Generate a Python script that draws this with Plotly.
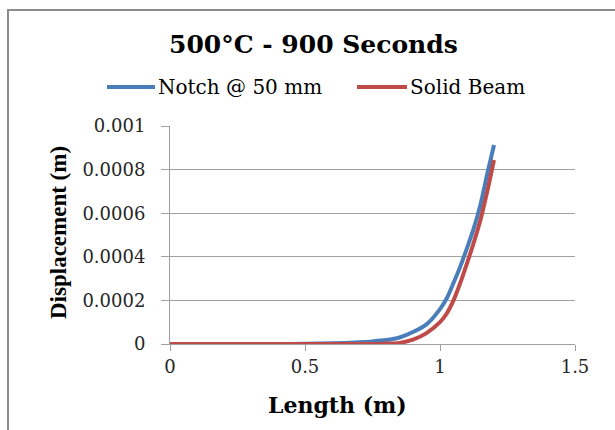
import plotly.graph_objects as go

x_vals = [0, 0.1, 0.2, 0.3, 0.4, 0.5, 0.6, 0.7, 0.75, 0.8, 0.85, 0.9, 0.95, 1.0,
          1.025, 1.05, 1.075, 1.1, 1.125, 1.15, 1.175, 1.2]
notch = [0, 0, 0, 0, 0, 0.000001, 0.000003, 0.000008, 0.000012, 0.000018, 0.000030, 0.000055, 0.000090, 0.000160,
         0.000210, 0.000280, 0.000355, 0.000440, 0.000530, 0.000640, 0.000780, 0.000913]
solid = [0, 0, 0, 0, 0, 0, 0, 0, 0, 0.000002, 0.000005, 0.000020, 0.000050, 0.000100,
         0.000140, 0.000200, 0.000280, 0.000370, 0.000465, 0.000570, 0.000700, 0.000844]

series_names = ["Notch @ 50 mm", "Solid Beam"]
series_colors = ["#4A7EBB", "#BE4B48"]

y_ticks = [0, 0.0002, 0.0004, 0.0006, 0.0008, 0.001]
y_ticktext = ["0", "0.0002", "0.0004", "0.0006", "0.0008", "0.001"]
x_ticks = [0, 0.5, 1, 1.5]
x_ticktext = ["0", "0.5", "1", "1.5"]

serif = "Liberation Serif"
wide = "DejaVu Serif"
fig = go.Figure()
for name, ys, col in zip(series_names, [notch, solid], series_colors):
    fig.add_trace(go.Scatter(x=x_vals, y=ys, mode="lines", name=name, showlegend=False,
                             line=dict(color=col, width=4, shape="spline", smoothing=0.8)))

L, R, T, B = 170, 40, 126, 86
W, H = 615, 430
pw, ph = W - L - R, H - T - B

def px(xp):
    return (xp - L) / pw

def py(yp):
    return (H - B - yp) / ph

# manual legend (line sample + label) placed like the reference
legend_line_x = [(107, 155), (357, 407)]
legend_text_x = [156, 408]
legend_y = 87

shapes = [
    dict(type="rect", xref="paper", yref="paper", x0=px(8), x1=px(640), y0=py(460), y1=py(10),
         line=dict(color="#8C8C8C", width=2), fillcolor="rgba(0,0,0,0)", layer="below"),
]
annotations = [
    dict(text="<b>500°C - 900 Seconds</b>", xref="paper", yref="paper", x=px(313), y=py(44),
         xanchor="center", yanchor="middle", showarrow=False, font=dict(family=wide, size=25)),
    dict(text="<b>Displacement (m)</b>", xref="paper", yref="paper", x=px(58), y=py(233),
         xanchor="center", yanchor="middle", textangle=-90, showarrow=False,
         font=dict(family=serif, size=23)),
    dict(text="<b>Length (m)</b>", xref="paper", yref="paper", x=px(337), y=py(405),
         xanchor="center", yanchor="middle", showarrow=False, font=dict(family=wide, size=22)),
]
for (x0, x1), tx, name, col in zip(legend_line_x, legend_text_x, series_names, series_colors):
    shapes.append(dict(type="line", xref="paper", yref="paper", x0=px(x0), x1=px(x1),
                       y0=py(legend_y), y1=py(legend_y), line=dict(color=col, width=4)))
    annotations.append(dict(text=name, xref="paper", yref="paper", x=px(tx), y=py(legend_y),
                            xanchor="left", yanchor="middle", showarrow=False,
                            font=dict(family=wide, size=20, color="black")))

fig.update_layout(
    width=W, height=H, margin=dict(l=L, r=R, t=T, b=B),
    paper_bgcolor="white", plot_bgcolor="white",
    font=dict(family=wide, color="black", size=18),
    showlegend=False,
    xaxis=dict(range=[0, 1.5], tickvals=x_ticks, ticktext=x_ticktext, showgrid=False,
               showline=True, linecolor="#A0A0A0", linewidth=1, ticks="outside", ticklen=6,
               tickcolor="#A0A0A0", zeroline=False, ticklabelstandoff=0,
               tickfont=dict(family=wide, size=18, color="#262626")),
    yaxis=dict(range=[0, 0.001], tickvals=y_ticks, ticktext=y_ticktext, showgrid=True,
               gridcolor="#A0A0A0", gridwidth=1, showline=True, linecolor="#A0A0A0", linewidth=1,
               ticks="outside", ticklen=8, tickcolor="#A0A0A0", zeroline=False, ticklabelstandoff=12,
               tickfont=dict(family=wide, size=18, color="#262626")),
    annotations=annotations,
    shapes=shapes,
)

fig.write_html("out.html")
